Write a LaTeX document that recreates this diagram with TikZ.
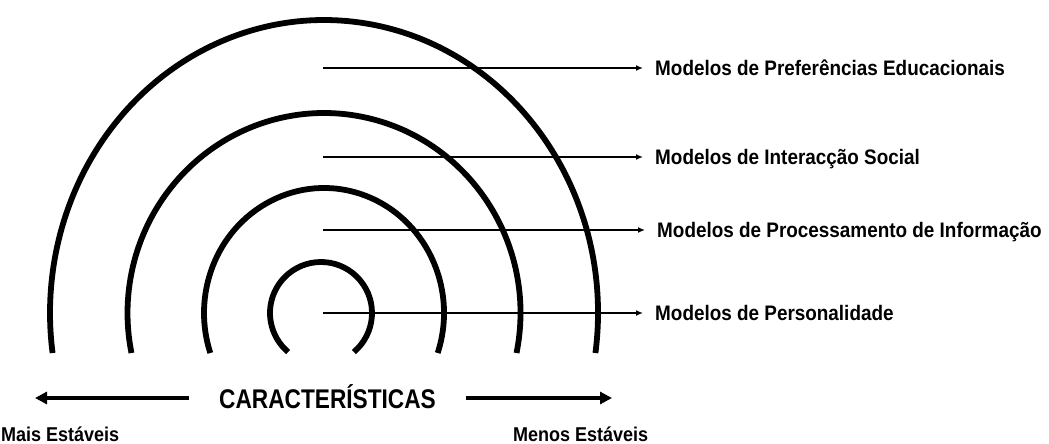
\documentclass[tikz,border=0pt]{standalone}
\usepackage{fontspec}
\setmainfont{Liberation Sans}
\usepackage{graphicx}
\usetikzlibrary{arrows.meta}
\newcommand{\sqz}[2]{\scalebox{#1}[1]{#2}}
\begin{document}
\begin{tikzpicture}[x=1pt,y=-1pt,
  ring/.style={line width=5.8pt},
  ptr/.style={line width=1.8pt,-{Latex[length=7pt,width=6pt]}},
  bigarrow/.style={line width=4pt,-{Triangle[length=12pt,width=12pt]}},
  lab/.style={anchor=base west,inner xsep=12pt,inner ysep=0pt,font=\fontsize{21}{24}\selectfont\bfseries},
  bottomlab/.style={anchor=base west,inner sep=0pt,font=\fontsize{20}{24}\selectfont\bfseries},
  carlab/.style={anchor=base,inner xsep=30pt,inner ysep=0pt,font=\fontsize{27}{30}\selectfont\bfseries}]
\useasboundingbox[fill=white] (0,0) rectangle (1049,444);

% concentric rings
\coordinate (c) at (324,313);
\coordinate (ci) at (321,313);
\draw[ring] (c) ++(-7.85:274pt and 293pt) arc[start angle=-7.85,end angle=187.85,x radius=274pt,y radius=293pt];
\draw[ring] (c) ++(-11.54:196.5pt and 200pt) arc[start angle=-11.54,end angle=191.54,x radius=196.5pt,y radius=200pt];
\draw[ring] (c) ++(-18.66:120pt and 125pt) arc[start angle=-18.66,end angle=198.66,x radius=120pt,y radius=125pt];
\draw[ring] (ci) ++(-49.9:51pt) arc[start angle=-49.9,end angle=229.9,radius=51pt];

% pointer origins
\coordinate (o1) at (323,68);
\coordinate (o2) at (323,157);
\coordinate (o3) at (323,230);
\coordinate (o4) at (323,313);

% labels
\node[lab] (l1) at (643,75.5) {\sqz{0.9}{Modelos de Preferências Educacionais}};
\node[lab] (l2) at (643,164.5) {\sqz{0.9}{Modelos de Interacção Social}};
\node[lab] (l3) at (645,237.5) {\sqz{0.9}{Modelos de Processamento de Informação}};
\node[lab] (l4) at (643,320.5) {\sqz{0.9}{Modelos de Personalidade}};

\draw[ptr] (o1) -- (o1 -| l1.west);
\draw[ptr] (o2) -- (o2 -| l2.west);
\draw[ptr] (o3) -- (o3 -| l3.west);
\draw[ptr] (o4) -- (o4 -| l4.west);

% bottom
\node[carlab] (car) at (327.5,408) {\sqz{0.84}{CARACTERÍSTICAS}};
\coordinate (la) at (35,398);
\coordinate (ra) at (612,398);
\draw[bigarrow] (la -| car.west) -- (la);
\draw[bigarrow] (ra -| car.east) -- (ra);

\node[bottomlab] (mais) at (1,441) {\sqz{0.9}{Mais Estáveis}};
\node[bottomlab] (menos) at (513,441) {\sqz{0.9}{Menos Estáveis}};
\end{tikzpicture}
\end{document}
